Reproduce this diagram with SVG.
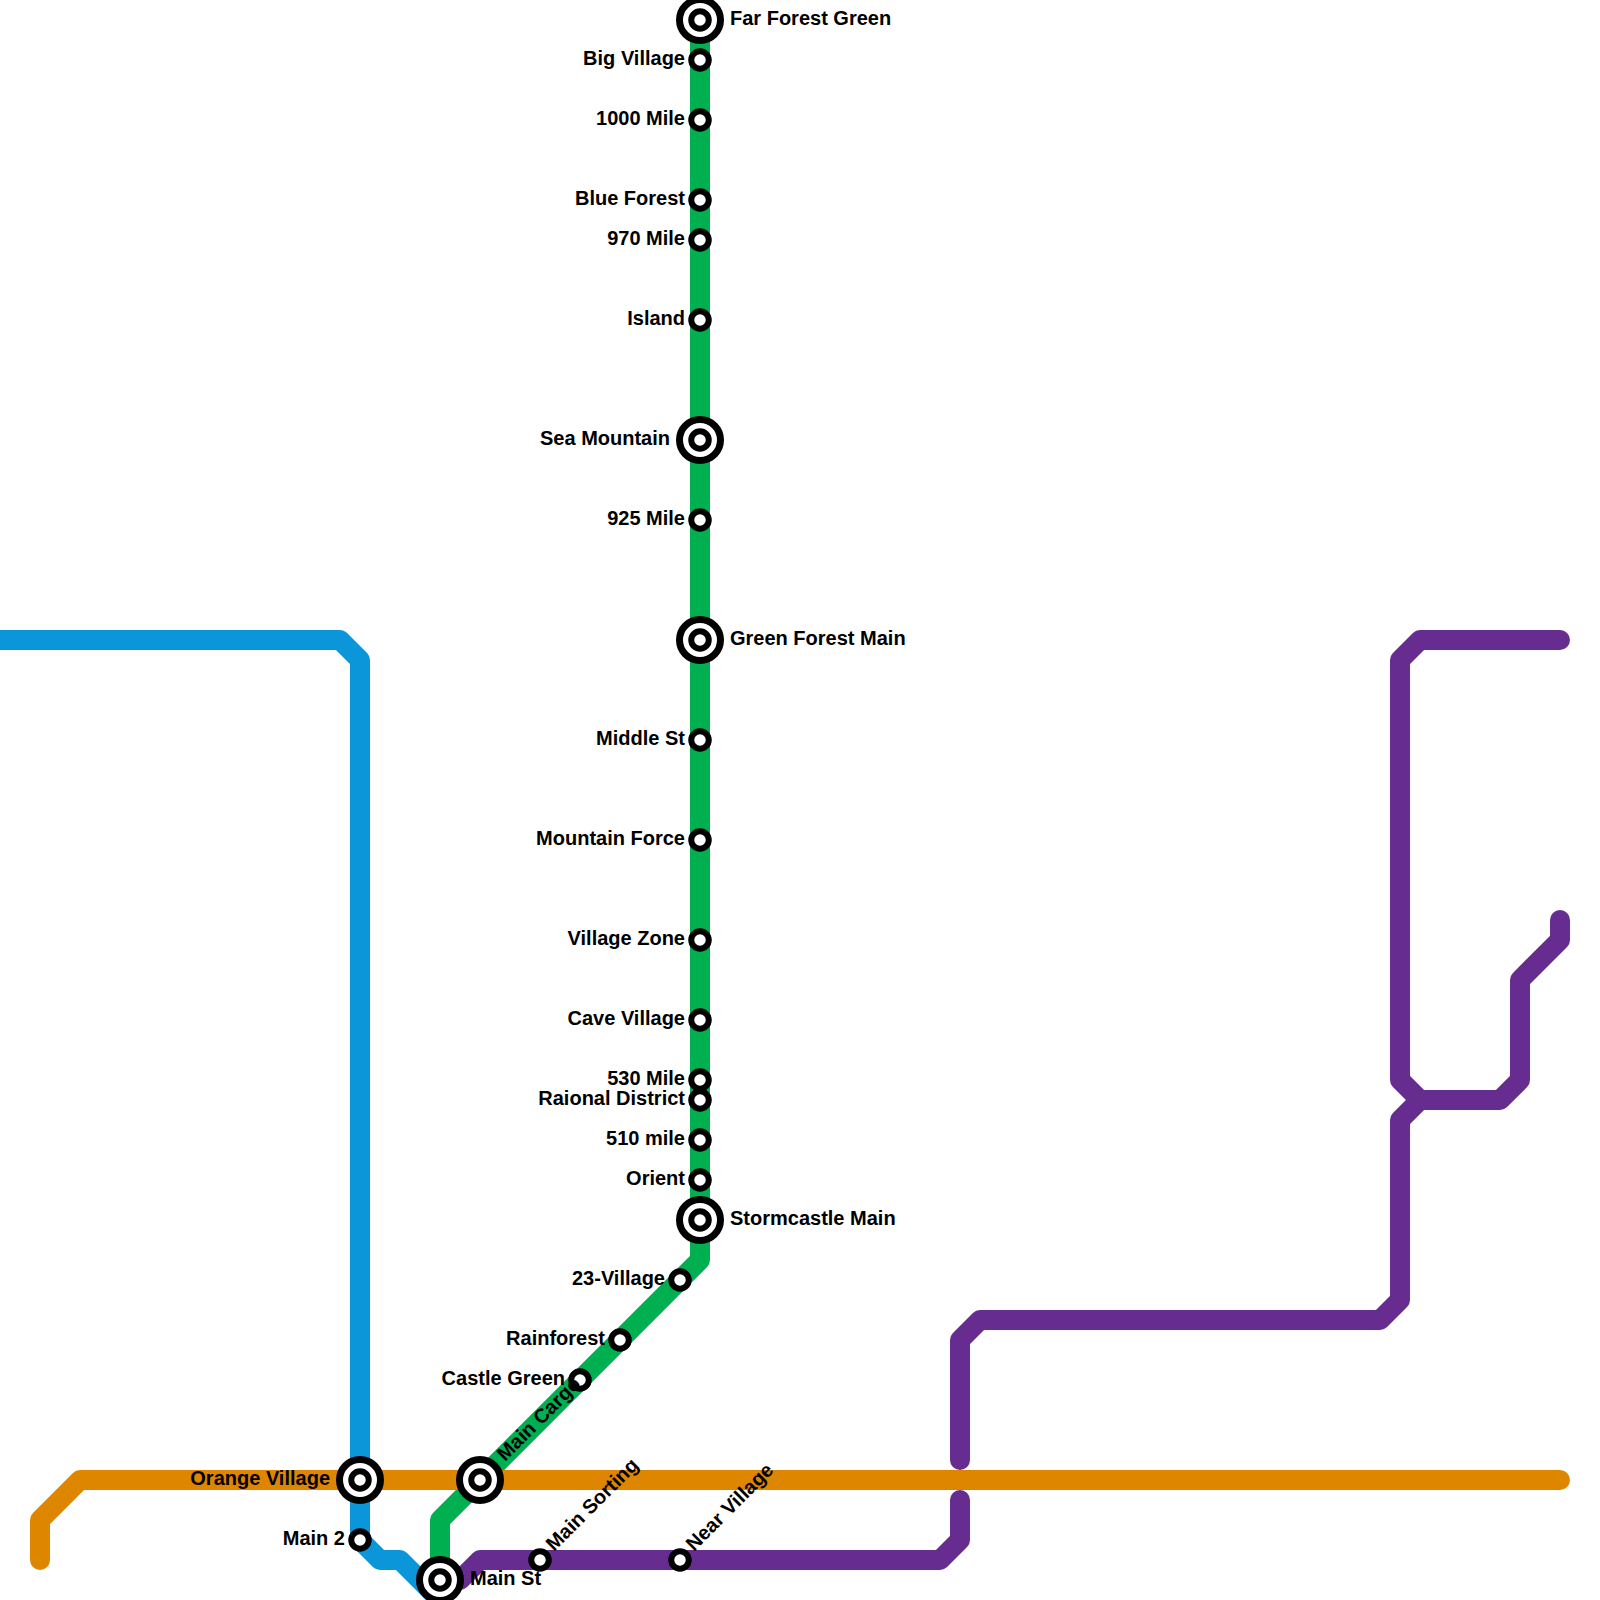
<svg xmlns="http://www.w3.org/2000/svg" width="1600" height="1600" viewBox="0 0 1600 1600">
<style>
.line{fill:none;stroke-width:20;stroke-linecap:round;stroke-linejoin:round}
.blue{stroke:#0a96d8}.green{stroke:#00b050}.purple{stroke:#662c90}.orange{stroke:#df8600}
.st{fill:#fff;stroke:#000;stroke-width:6}
.ring{fill:#fff;stroke:#000;stroke-width:7}
text{font-family:"Liberation Sans",Arial,sans-serif;font-size:20px;font-weight:bold;fill:#000}
.l{text-anchor:end}
</style>
<defs>
<g id="small"><circle class="st" r="8.75"/></g>
<g id="big"><circle class="ring" r="20.5"/><circle class="st" r="8.75"/></g>
</defs>
<rect width="1600" height="1600" fill="#fff"/>
<g id="connectors">
<path class="line blue" d="M-20 640H340L360 660V1540L380 1560H400L440 1600"/>
<path class="line green" d="M700 20V1260L440 1520V1580"/>
<path class="line purple" d="M1560 640H1420L1400 660V1080L1420 1100H1500L1520 1080V980L1560 940V920"/>
<path class="line purple" d="M1420 1100L1400 1120V1300L1380 1320H980L960 1340V1460"/>
<path class="line purple" d="M960 1500V1540L940 1560H480L460 1580"/>
<path class="line orange" d="M40 1560V1520L80 1480H1560"/>
</g>
<g id="far-forest-green"><use href="#big" x="700" y="20"/><text x="730" y="25">Far Forest Green</text></g>
<g id="big-village"><use href="#small" x="700" y="60"/><text class="l" x="685" y="65">Big Village</text></g>
<g id="mile-1000"><use href="#small" x="700" y="120"/><text class="l" x="685" y="125">1000 Mile</text></g>
<g id="blue-forest"><use href="#small" x="700" y="200"/><text class="l" x="685" y="205">Blue Forest</text></g>
<g id="mile-970"><use href="#small" x="700" y="240"/><text class="l" x="685" y="245">970 Mile</text></g>
<g id="island"><use href="#small" x="700" y="320"/><text class="l" x="685" y="325">Island</text></g>
<g id="sea-mountain"><use href="#big" x="700" y="440"/><text class="l" x="670" y="445">Sea Mountain</text></g>
<g id="mile-925"><use href="#small" x="700" y="520"/><text class="l" x="685" y="525">925 Mile</text></g>
<g id="green-forest-main"><use href="#big" x="700" y="640"/><text x="730" y="645">Green Forest Main</text></g>
<g id="middle-st"><use href="#small" x="700" y="740"/><text class="l" x="685" y="745">Middle St</text></g>
<g id="mountain-force"><use href="#small" x="700" y="840"/><text class="l" x="685" y="845">Mountain Force</text></g>
<g id="village-zone"><use href="#small" x="700" y="940"/><text class="l" x="685" y="945">Village Zone</text></g>
<g id="cave-village"><use href="#small" x="700" y="1020"/><text class="l" x="685" y="1025">Cave Village</text></g>
<g id="mile-530"><use href="#small" x="700" y="1080"/><text class="l" x="685" y="1085">530 Mile</text></g>
<g id="raional-district"><use href="#small" x="700" y="1100"/><text class="l" x="685" y="1105">Raional District</text></g>
<g id="mile-510"><use href="#small" x="700" y="1140"/><text class="l" x="685" y="1145">510 mile</text></g>
<g id="orient"><use href="#small" x="700" y="1180"/><text class="l" x="685" y="1185">Orient</text></g>
<g id="stormcastle-main"><use href="#big" x="700" y="1220"/><text x="730" y="1225">Stormcastle Main</text></g>
<g id="village-23"><use href="#small" x="680" y="1280"/><text class="l" x="665" y="1285">23-Village</text></g>
<g id="rainforest"><use href="#small" x="620" y="1340"/><text class="l" x="605" y="1345">Rainforest</text></g>
<g id="castle-green"><use href="#small" x="580" y="1380"/><text class="l" x="565" y="1385">Castle Green</text></g>
<g id="main-cargo"><use href="#big" x="480" y="1480"/><text transform="translate(505 1462) rotate(-45)">Main Cargo</text></g>
<g id="orange-village"><use href="#big" x="360" y="1480"/><text class="l" x="330" y="1485">Orange Village</text></g>
<g id="main-2"><use href="#small" x="360" y="1540"/><text class="l" x="345" y="1545">Main 2</text></g>
<g id="main-st"><use href="#big" x="440" y="1580"/><text x="470" y="1585">Main St</text></g>
<g id="main-sorting"><use href="#small" x="540" y="1560"/><text transform="translate(554 1552) rotate(-45)">Main Sorting</text></g>
<g id="near-village"><use href="#small" x="680" y="1560"/><text transform="translate(694 1552) rotate(-45)">Near Village</text></g>
</svg>
